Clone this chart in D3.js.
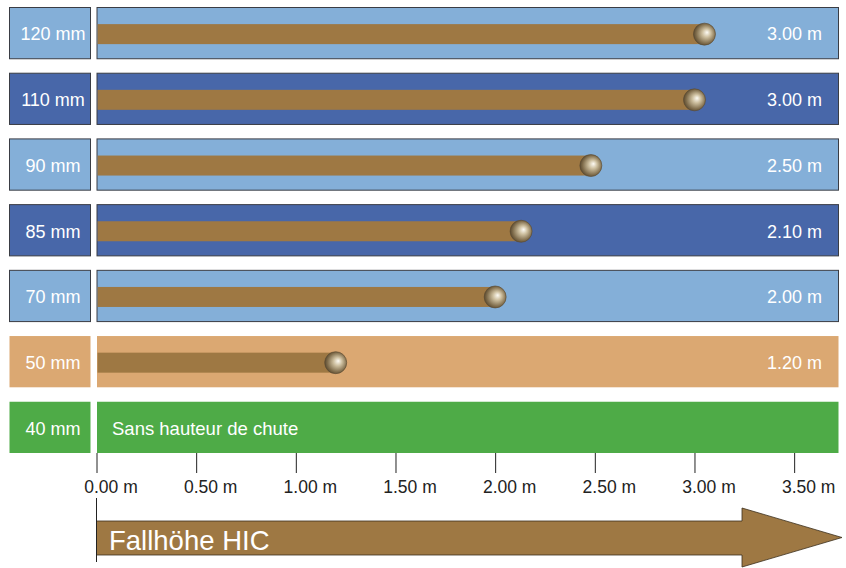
<!DOCTYPE html>
<html>
<head>
<meta charset="utf-8">
<script src="https://cdn.jsdelivr.net/npm/d3@7"></script>
<style>
  body { margin: 0; background: #fff; }
  text { font-family: "Liberation Sans", Arial, sans-serif; }
</style>
</head>
<body>
<div id="wrapper"></div>
<script>
// data
const thickness = ['120 mm', '110 mm', '90 mm', '85 mm', '70 mm', '50 mm', '40 mm']
const fallHeight = [3.05, 3.00, 2.48, 2.13, 2.00, 1.20, null]
const heightLabels = ['3.00 m', '3.00 m', '2.50 m', '2.10 m', '2.00 m', '1.20 m', '']
const rowKind = ['light', 'dark', 'light', 'dark', 'light', 'orange', 'green']
const tickValues = [0, 0.5, 1, 1.5, 2, 2.5, 3, 3.5]
const noDropText = 'Sans hauteur de chute'
const arrowTitle = 'Fallhöhe HIC'

const colors = {
  light: '#84afd8',
  dark: '#4867a9',
  orange: '#dba872',
  green: '#4eab47',
  brown: '#9e7843'
}

const rows = thickness.map((t, i) => ({
  thickness: t, height: fallHeight[i], label: heightLabels[i], kind: rowKind[i]
}))

let dimensions = { width: 846, height: 568 }

const wrapper = d3.select('#wrapper')
  .append('svg')
    .attr('width', dimensions.width)
    .attr('height', dimensions.height)

// ball gradient
const defs = wrapper.append('defs')
const grad = defs.append('radialGradient')
    .attr('id', 'ball')
    .attr('cx', '55%').attr('cy', '50%')
    .attr('fx', '62%').attr('fy', '42%')
    .attr('r', '55%')
grad.append('stop').attr('offset', '0%').attr('stop-color', '#fdfbf4')
grad.append('stop').attr('offset', '35%').attr('stop-color', '#cdbf9f')
grad.append('stop').attr('offset', '80%').attr('stop-color', '#7f6c4b')
grad.append('stop').attr('offset', '100%').attr('stop-color', '#5a4a31')

// scales
const xScale = d3.scaleLinear()
  .domain([0, 3.72])
  .range([96.5, 838])

const yScale = d3.scaleBand()
  .domain(thickness)
  .range([7.5, 453])
  .paddingInner(0.22)

const rowH = yScale.bandwidth()

const row = wrapper.selectAll('g.row')
  .data(rows)
  .enter().append('g')
    .attr('class', 'row')
    .attr('transform', d => `translate(0,${yScale(d.thickness)})`)

const hasBorder = d => d.kind === 'light' || d.kind === 'dark'

// label box
row.append('rect')
    .attr('x', 9.5)
    .attr('y', 0)
    .attr('width', 81)
    .attr('height', rowH)
    .attr('fill', d => colors[d.kind])
    .attr('stroke', d => hasBorder(d) ? '#3a3d44' : 'none')
    .attr('stroke-width', 1)

row.append('text')
    .attr('x', 53)
    .attr('y', rowH / 2 + 1)
    .attr('dy', '0.35em')
    .attr('text-anchor', 'middle')
    .attr('fill', '#fff')
    .style('font-size', '18px')
    .text(d => d.thickness)

// main box
row.append('rect')
    .attr('x', xScale(0) + 0.5)
    .attr('y', 0)
    .attr('width', xScale.range()[1] - xScale(0))
    .attr('height', rowH)
    .attr('fill', d => colors[d.kind])
    .attr('stroke', d => hasBorder(d) ? '#3a3d44' : 'none')
    .attr('stroke-width', 1)

const withDrop = row.filter(d => d.height != null)

withDrop.append('rect')
    .attr('x', xScale(0) + 1)
    .attr('y', rowH / 2 - 9)
    .attr('width', d => xScale(d.height) - xScale(0) - 1)
    .attr('height', 20)
    .attr('fill', colors.brown)

withDrop.append('circle')
    .attr('cx', d => xScale(d.height))
    .attr('cy', rowH / 2 + 1)
    .attr('r', 11)
    .attr('fill', 'url(#ball)')
    .attr('stroke', '#5a4a31')
    .attr('stroke-width', 0.6)

withDrop.append('text')
    .attr('x', 822)
    .attr('y', rowH / 2 + 1)
    .attr('dy', '0.35em')
    .attr('text-anchor', 'end')
    .attr('fill', '#fff')
    .style('font-size', '18px')
    .text(d => d.label)

row.filter(d => d.height == null)
  .append('text')
    .attr('x', 112)
    .attr('y', rowH / 2 + 1)
    .attr('dy', '0.35em')
    .attr('fill', '#fff')
    .style('font-size', '18.5px')
    .text(noDropText)

// axis
const xAxisGenerator = d3.axisBottom()
  .scale(xScale)
  .tickValues(tickValues)
  .tickSize(20)
  .tickFormat(d => d3.format('.2f')(d) + ' m')

const xAxis = wrapper.append('g')
  .attr('transform', 'translate(0,453)')
  .call(xAxisGenerator)
  .call(g => g.select('.domain').remove())

xAxis.selectAll('line').attr('stroke', '#222')
xAxis.selectAll('text')
  .attr('fill', '#222')
  .attr('y', 28)
  .attr('dx', 14)
  .style('font-size', '17.5px')

// big arrow
const ax0 = xScale(0), ax1 = 742, tip = 842
const ay0 = 521, ay1 = 555, hy0 = 508, hy1 = 567
wrapper.append('path')
  .attr('d', `M${ax0},${ay0} L${ax1},${ay0} L${ax1},${hy0} L${tip},${(hy0 + hy1) / 2} L${ax1},${hy1} L${ax1},${ay1} L${ax0},${ay1} Z`)
  .attr('fill', colors.brown)
  .attr('stroke', '#3b2e1c')
  .attr('stroke-width', 0.8)

wrapper.append('line')
  .attr('x1', ax0).attr('x2', ax0)
  .attr('y1', 498).attr('y2', 562)
  .attr('stroke', '#222')
  .attr('stroke-width', 1)

wrapper.append('text')
  .attr('x', 109)
  .attr('y', 550)
  .attr('fill', '#fff')
  .style('font-size', '27.5px')
  .text(arrowTitle)
</script>
</body>
</html>
